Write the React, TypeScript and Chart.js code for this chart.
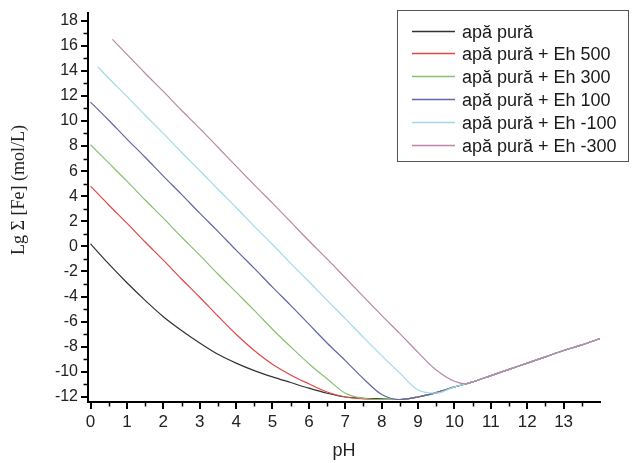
import React, { useEffect, useRef } from "react";
import { Chart, registerables } from "chart.js";

Chart.register(...registerables);

// ---------- data ----------
const phGrid = [0, 0.5, 1, 1.5, 2, 2.5, 3, 3.5, 4, 4.5, 5, 5.5, 6, 6.5, 7, 7.5, 8, 8.5, 9, 9.5, 10, 10.5, 11, 11.5, 12, 12.5, 13, 13.5, 14];
const phCyan = [0.2, 0.5, 1, 1.5, 2, 2.5, 3, 3.5, 4, 4.5, 5, 5.5, 6, 6.5, 7, 7.5, 8, 8.5, 9, 9.5, 10, 10.5, 11, 11.5, 12, 12.5, 13, 13.5, 14];
const phPurple = [0.6, 1, 1.5, 2, 2.5, 3, 3.5, 4, 4.5, 5, 5.5, 6, 6.5, 7, 7.5, 8, 8.5, 9, 9.5, 10, 10.3, 10.5, 11, 11.5, 12, 12.5, 13, 13.5, 14];

const pureWater = [0.2, -1.4, -2.9, -4.3, -5.6, -6.7, -7.7, -8.6, -9.3, -9.9, -10.4, -10.85, -11.3, -11.7, -12.0, -12.1, -12.15, -12.2, -12.0, -11.65, -11.2, -10.8, -10.3, -9.8, -9.3, -8.8, -8.3, -7.85, -7.35];
const eh500 = [4.8, 3.3, 1.85, 0.35, -1.1, -2.6, -4.05, -5.55, -7.0, -8.3, -9.4, -10.25, -10.95, -11.6, -12.0, -12.15, -12.2, -12.2, -12.0, -11.65, -11.2, -10.8, -10.3, -9.8, -9.3, -8.8, -8.3, -7.85, -7.35];
const eh300 = [8.1, 6.65, 5.2, 3.7, 2.25, 0.75, -0.7, -2.2, -3.65, -5.1, -6.6, -8.0, -9.35, -10.55, -11.7, -12.1, -12.2, -12.2, -12.0, -11.65, -11.2, -10.8, -10.3, -9.8, -9.3, -8.8, -8.3, -7.85, -7.35];
const eh100 = [11.5, 10.05, 8.55, 7.1, 5.6, 4.15, 2.65, 1.2, -0.3, -1.75, -3.25, -4.7, -6.2, -7.7, -9.1, -10.55, -11.8, -12.2, -12.0, -11.65, -11.2, -10.8, -10.3, -9.8, -9.3, -8.8, -8.3, -7.85, -7.35];
const ehm100 = [14.3, 13.4, 11.95, 10.45, 9.0, 7.5, 6.05, 4.55, 3.1, 1.6, 0.15, -1.35, -2.8, -4.3, -5.75, -7.25, -8.7, -10.1, -11.45, -11.7, -11.2, -10.8, -10.3, -9.8, -9.3, -8.8, -8.3, -7.85, -7.35];
const ehm300 = [16.5, 15.3, 13.8, 12.35, 10.85, 9.4, 7.9, 6.4, 4.9, 3.45, 1.95, 0.45, -1.0, -2.5, -4.0, -5.5, -6.95, -8.45, -9.85, -10.75, -10.95, -10.8, -10.3, -9.8, -9.3, -8.8, -8.3, -7.85, -7.35];

const seriesLabels = ["apă pură", "apă pură + Eh 500", "apă pură + Eh 300", "apă pură + Eh 100", "apă pură + Eh -100", "apă pură + Eh -300"];
const seriesColors = ["#333333", "#e04848", "#86c270", "#6464a8", "#9fdbe6", "#bb86a8"];

const xTicks = [0, 1, 2, 3, 4, 5, 6, 7, 8, 9, 10, 11, 12, 13];
const xMinorTicks = [0.5, 1.5, 2.5, 3.5, 4.5, 5.5, 6.5, 7.5, 8.5, 9.5, 10.5, 11.5, 12.5, 13.5];
const yTicks = [-12, -10, -8, -6, -4, -2, 0, 2, 4, 6, 8, 10, 12, 14, 16, 18];
const yMinorTicks = [-11, -9, -7, -5, -3, -1, 1, 3, 5, 7, 9, 11, 13, 15, 17];

const xTitle = "pH";
const yTitle = "Lg Σ [Fe] (mol/L)";

const pair = (xs: number[], ys: number[]) => xs.map((x, i) => ({ x, y: ys[i] }));

const minorTicksPlugin = {
  id: "minorTicks",
  afterDraw(chart: any) {
    const { ctx, chartArea, scales } = chart;
    ctx.save();
    ctx.strokeStyle = "#000";
    ctx.lineWidth = 1.5;
    ctx.beginPath();
    xMinorTicks.forEach((v) => {
      const px = Math.round(scales.x.getPixelForValue(v)) + 0.5;
      ctx.moveTo(px, chartArea.bottom);
      ctx.lineTo(px, chartArea.bottom + 4.5);
    });
    yMinorTicks.forEach((v) => {
      const py = Math.round(scales.y.getPixelForValue(v)) + 0.5;
      ctx.moveTo(chartArea.left, py);
      ctx.lineTo(chartArea.left - 4.5, py);
    });
    ctx.stroke();
    ctx.restore();
  },
};

const yTitlePlugin = {
  id: "yTitleDraw",
  afterDraw(chart: any) {
    const { ctx } = chart;
    ctx.save();
    ctx.translate(19, 190);
    ctx.rotate(-Math.PI / 2);
    ctx.font = '18px "Liberation Serif", "Times New Roman", serif';
    ctx.fillStyle = "#222";
    ctx.textAlign = "center";
    ctx.textBaseline = "middle";
    ctx.fillText(yTitle, 0, 0);
    ctx.restore();
  },
};

const boxLegendPlugin = {
  id: "boxLegend",
  afterDraw(chart: any) {
    const { ctx } = chart;
    const boxX = 397, boxY = 10, boxW = 231, boxH = 151;
    const rowY0 = 30.5, rowDy = 22.8;
    ctx.save();
    ctx.strokeStyle = "#555";
    ctx.lineWidth = 1;
    ctx.strokeRect(boxX + 0.5, boxY + 0.5, boxW, boxH);
    ctx.font = '18px "Liberation Sans", Arial, sans-serif';
    ctx.textBaseline = "middle";
    ctx.textAlign = "left";
    seriesLabels.forEach((label, i) => {
      const y = Math.round(rowY0 + i * rowDy) + 0.5;
      ctx.strokeStyle = seriesColors[i];
      ctx.lineWidth = 1.3;
      ctx.beginPath();
      ctx.moveTo(412, y);
      ctx.lineTo(455, y);
      ctx.stroke();
      ctx.fillStyle = "#1a1a1a";
      ctx.fillText(label, 462, y + 2);
    });
    ctx.restore();
  },
};

const whiteBg = {
  id: "whiteBg",
  beforeDraw(chart: any) {
    const { ctx, width, height } = chart;
    ctx.save();
    ctx.fillStyle = "#fff";
    ctx.fillRect(0, 0, width, height);
    ctx.restore();
  },
};

export default function App() {
  const ref = useRef<HTMLCanvasElement>(null);
  useEffect(() => {
    const canvas = ref.current!;
    const xsList = [phGrid, phGrid, phGrid, phGrid, phCyan, phPurple];
    const ysList = [pureWater, eh500, eh300, eh100, ehm100, ehm300];
    const chart = new Chart(canvas, {
      type: "line",
      data: {
        datasets: seriesLabels.map((label, i) => ({
          label,
          data: pair(xsList[i], ysList[i]),
          borderColor: seriesColors[i],
          backgroundColor: seriesColors[i],
          borderWidth: 1.2,
          pointRadius: 0,
          tension: 0,
          cubicInterpolationMode: "monotone" as const,
          fill: false,
          order: 5 - i,
        })),
      },
      options: {
        responsive: false,
        animation: false,
        layout: { padding: { top: 8, right: 33, left: 0, bottom: 0 } },
        plugins: { legend: { display: false }, tooltip: { enabled: false } },
        scales: {
          x: {
            type: "linear",
            min: -0.07,
            max: 14,
            afterBuildTicks: (s: any) => {
              s.ticks = xTicks.map((v) => ({ value: v }));
            },
            afterFit: (s: any) => {
              s.height = 61;
            },
            border: { display: true, color: "#000", width: 2 },
            grid: { drawOnChartArea: false, drawTicks: true, tickLength: 7, color: "#000", lineWidth: 2 },
            ticks: {
              font: { family: '"Liberation Sans", Arial, sans-serif', size: 17 },
              color: "#222",
              padding: 3,
              maxRotation: 0,
              autoSkip: false,
              callback: (v: any) => String(v),
            },
            title: {
              display: true,
              text: xTitle,
              font: { family: '"Liberation Sans", Arial, sans-serif', size: 18 },
              color: "#222",
              padding: { top: 0, bottom: 1 },
            },
          },
          y: {
            type: "linear",
            min: -12.4,
            max: 18.63,
            afterBuildTicks: (s: any) => {
              s.ticks = yTicks.map((v) => ({ value: v }));
            },
            afterFit: (s: any) => {
              s.width = 88;
            },
            border: { display: true, color: "#000", width: 2 },
            grid: { drawOnChartArea: false, drawTicks: true, tickLength: 7, color: "#000", lineWidth: 2 },
            ticks: {
              font: { family: '"Liberation Sans", Arial, sans-serif', size: 16 },
              color: "#222",
              padding: 3,
              autoSkip: false,
              callback: (v: any) => String(v),
            },
            title: { display: false },
          },
        },
      },
      plugins: [whiteBg, minorTicksPlugin, yTitlePlugin, boxLegendPlugin],
    });
    return () => chart.destroy();
  }, []);
  return (
    <div style={{ position: "fixed", left: 0, top: 0, width: 633, height: 463, background: "#fff" }}>
      <canvas ref={ref} width={633} height={463} style={{ display: "block", width: 633, height: 463 }} />
    </div>
  );
}
